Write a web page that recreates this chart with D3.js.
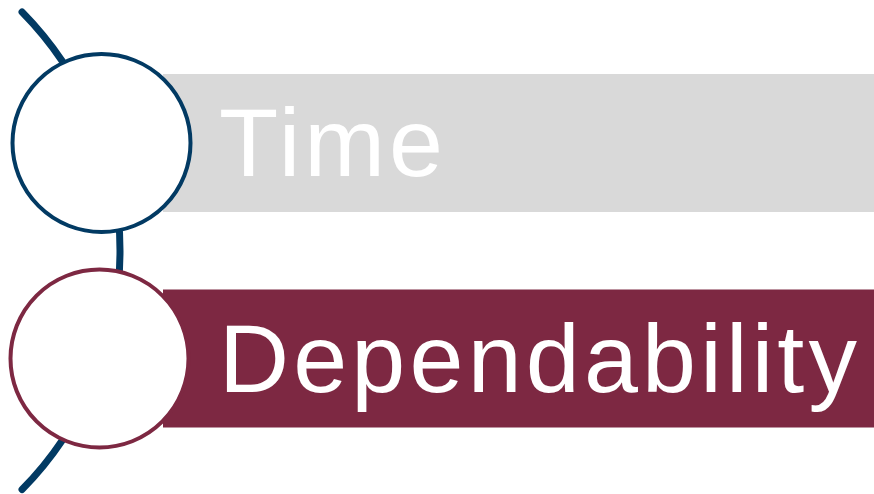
<!DOCTYPE html>
<html>
<head>
<meta charset="utf-8">
<script src="https://cdn.jsdelivr.net/npm/d3@7"></script>
<style>
  body { margin: 0; background: #fff; }
  svg { display: block; }
</style>
</head>
<body>
<svg id="chart"></svg>
<script>
// items of the diagram, top to bottom
var labels = ['Time', 'Dependability']
var barFills = ['#d9d9d9', '#7d2842']
var ringColors = ['#023a63', '#7d2842']
var textWidths = [224, 638]

var width = 874
var height = 494

var svg = d3.select('#chart')
  .attr('width', width)
  .attr('height', height)

// vertical positions of each row
var yScale = d3.scalePoint()
  .domain(labels)
  .range([143, 358.5])

var barHeight = 138
var barLeft = 163
var ringRadius = 89

// big arc the rings hang on
var arcCx = -220,
  arcCy = (yScale.range()[0] + yScale.range()[1]) / 2,
  arcR = 340
var spine = d3.path()
var a0 = Math.atan2(12 - arcCy, 22 - arcCx)
spine.arc(arcCx, arcCy, arcR, a0, -a0)

svg.append('path')
  .attr('d', spine.toString())
  .attr('fill', 'none')
  .attr('stroke', '#023a63')
  .attr('stroke-width', 7)
  .attr('stroke-linecap', 'round')

// bars
svg.selectAll('rect.bar')
  .data(labels)
  .enter().append('rect')
  .attr('class', 'bar')
  .attr('x', barLeft)
  .attr('y', d => yScale(d) - barHeight / 2)
  .attr('width', width - barLeft)
  .attr('height', barHeight)
  .attr('fill', (d, i) => barFills[i])

// rings
svg.selectAll('circle.ring')
  .data(labels)
  .enter().append('circle')
  .attr('class', 'ring')
  .attr('cx', (d, i) => i === 0 ? 101.5 : 99.5)
  .attr('cy', d => yScale(d))
  .attr('r', ringRadius)
  .attr('fill', '#fff')
  .attr('stroke', (d, i) => ringColors[i])
  .attr('stroke-width', 4)

// labels
svg.selectAll('text.label')
  .data(labels)
  .enter().append('text')
  .attr('class', 'label')
  .attr('x', 219)
  .attr('y', d => yScale(d) + 33)
  .attr('fill', '#fff')
  .attr('font-family', 'Liberation Sans, Arial, sans-serif')
  .attr('font-size', 97)
  .attr('textLength', (d, i) => textWidths[i])
  .attr('lengthAdjust', 'spacing')
  .text(d => d)
</script>
</body>
</html>
